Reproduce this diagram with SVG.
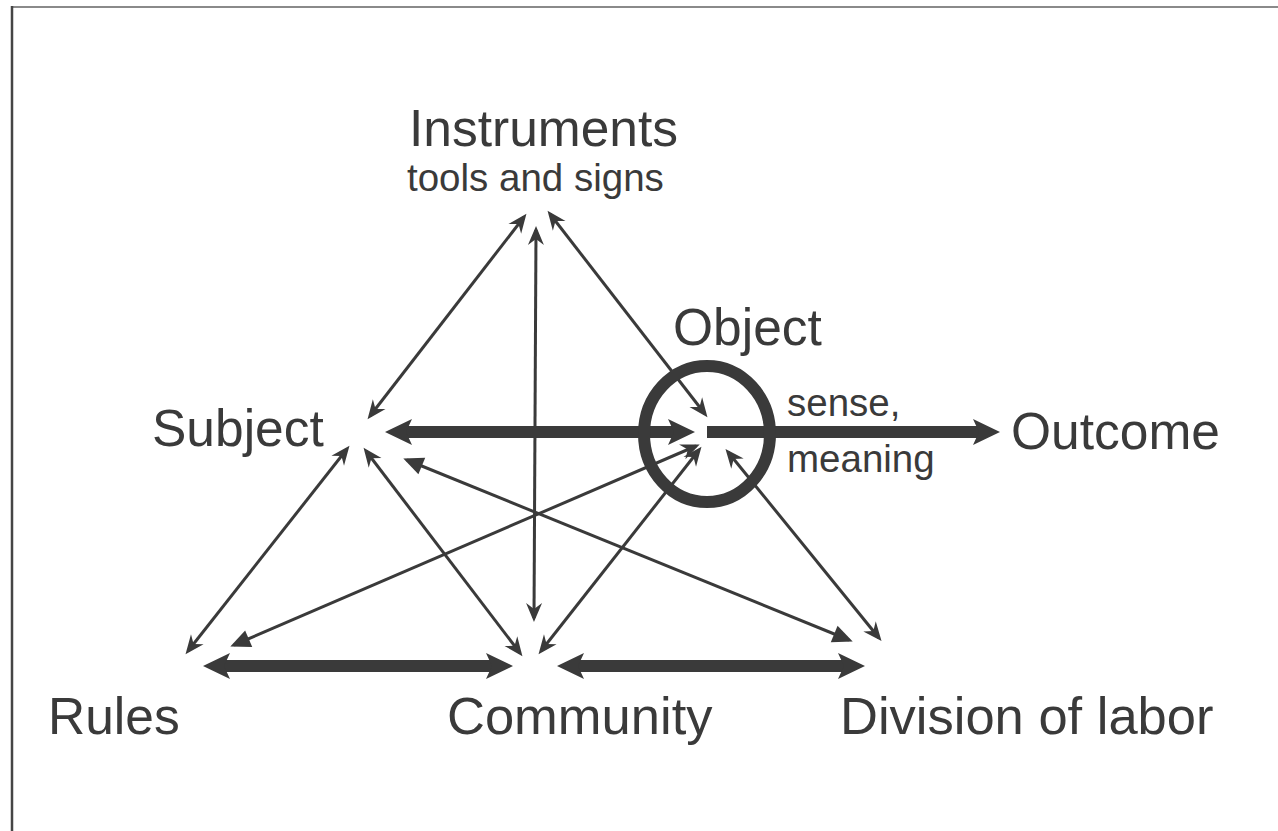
<svg xmlns="http://www.w3.org/2000/svg" width="1278" height="831" viewBox="0 0 1278 831">
<style>
.lbl{font-family:"Liberation Sans",Arial,sans-serif;fill:#3a3a3a;font-size:51.5px}
.sm{font-size:38.5px}
.thin{stroke:#3a3a3a;stroke-width:3;fill:none}
.thick{stroke:#3a3a3a;stroke-width:12;fill:none}
</style>
<defs>
<marker id="mThin" markerUnits="userSpaceOnUse" markerWidth="30" markerHeight="30" viewBox="-25 -15 30 30" refX="-4" refY="0" orient="auto-start-reverse">
<path d="M0,0 L-19,-8 L-13,0 L-19,8 Z" fill="#3a3a3a"/>
</marker>
<marker id="mTri" markerUnits="userSpaceOnUse" markerWidth="30" markerHeight="30" viewBox="-25 -15 30 30" refX="-4" refY="0" orient="auto-start-reverse">
<path d="M0,0 L-20,-9 L-20,9 Z" fill="#3a3a3a"/>
</marker>
<marker id="mThick" markerUnits="userSpaceOnUse" markerWidth="40" markerHeight="40" viewBox="-32 -20 40 40" refX="-18" refY="0" orient="auto-start-reverse">
<path d="M0,0 L-27,-13 L-21,0 L-27,13 Z" fill="#3a3a3a"/>
</marker>
</defs>
<rect x="0" y="0" width="1278" height="831" fill="#ffffff"/>
<g id="frame">
<line x1="11" y1="7" x2="1278" y2="7" stroke="#8a8a8a" stroke-width="2"/>
<line x1="12" y1="6" x2="12" y2="831" stroke="#454545" stroke-width="2.5"/>
</g>
<g id="connectors">
<line class="thin" x1="524" y1="217" x2="370" y2="416" marker-start="url(#mThin)" marker-end="url(#mThin)"/>
<line class="thin" x1="536" y1="230" x2="534" y2="618" marker-start="url(#mThin)" marker-end="url(#mThin)"/>
<line class="thin" x1="550" y1="214" x2="705" y2="414" marker-start="url(#mThin)" marker-end="url(#mThin)"/>
<line class="thin" x1="347" y1="449" x2="188" y2="651" marker-start="url(#mThin)" marker-end="url(#mThin)"/>
<line class="thin" x1="366" y1="451" x2="520" y2="653" marker-start="url(#mThin)" marker-end="url(#mThin)"/>
<line class="thin" x1="407" y1="460" x2="849" y2="640" marker-start="url(#mTri)" marker-end="url(#mTri)"/>
<line class="thin" x1="696" y1="446" x2="234" y2="645" marker-start="url(#mThin)" marker-end="url(#mTri)"/>
<line class="thin" x1="699" y1="450" x2="541" y2="651" marker-start="url(#mThin)" marker-end="url(#mThin)"/>
<line class="thin" x1="728" y1="452" x2="879" y2="638" marker-start="url(#mThin)" marker-end="url(#mThin)"/>
<line class="thick" x1="403" y1="432" x2="677" y2="432" marker-start="url(#mThick)" marker-end="url(#mThick)"/>
<line class="thick" x1="707" y1="432" x2="982" y2="432" marker-end="url(#mThick)"/>
<line class="thick" x1="221" y1="666" x2="495" y2="666" marker-start="url(#mThick)" marker-end="url(#mThick)"/>
<line class="thick" x1="575" y1="666" x2="847" y2="666" marker-start="url(#mThick)" marker-end="url(#mThick)"/>
</g>
<g id="instruments">
<text class="lbl" x="409" y="146">Instruments</text>
<text class="lbl sm" x="407" y="191">tools and signs</text>
</g>
<g id="object">
<ellipse cx="707" cy="434" rx="63" ry="68" fill="none" stroke="#3a3a3a" stroke-width="12"/>
<text class="lbl" x="673" y="345">Object</text>
</g>
<g id="subject">
<text class="lbl" x="152" y="446">Subject</text>
</g>
<g id="outcome">
<text class="lbl" x="1011" y="449">Outcome</text>
<text class="lbl sm" x="787" y="416">sense,</text>
<text class="lbl sm" x="787" y="472">meaning</text>
</g>
<g id="rules">
<text class="lbl" x="48" y="734">Rules</text>
</g>
<g id="community">
<text class="lbl" x="447" y="734" style="font-size:52.5px">Community</text>
</g>
<g id="division">
<text class="lbl" x="840" y="734" style="font-size:52.5px">Division of labor</text>
</g>
</svg>
